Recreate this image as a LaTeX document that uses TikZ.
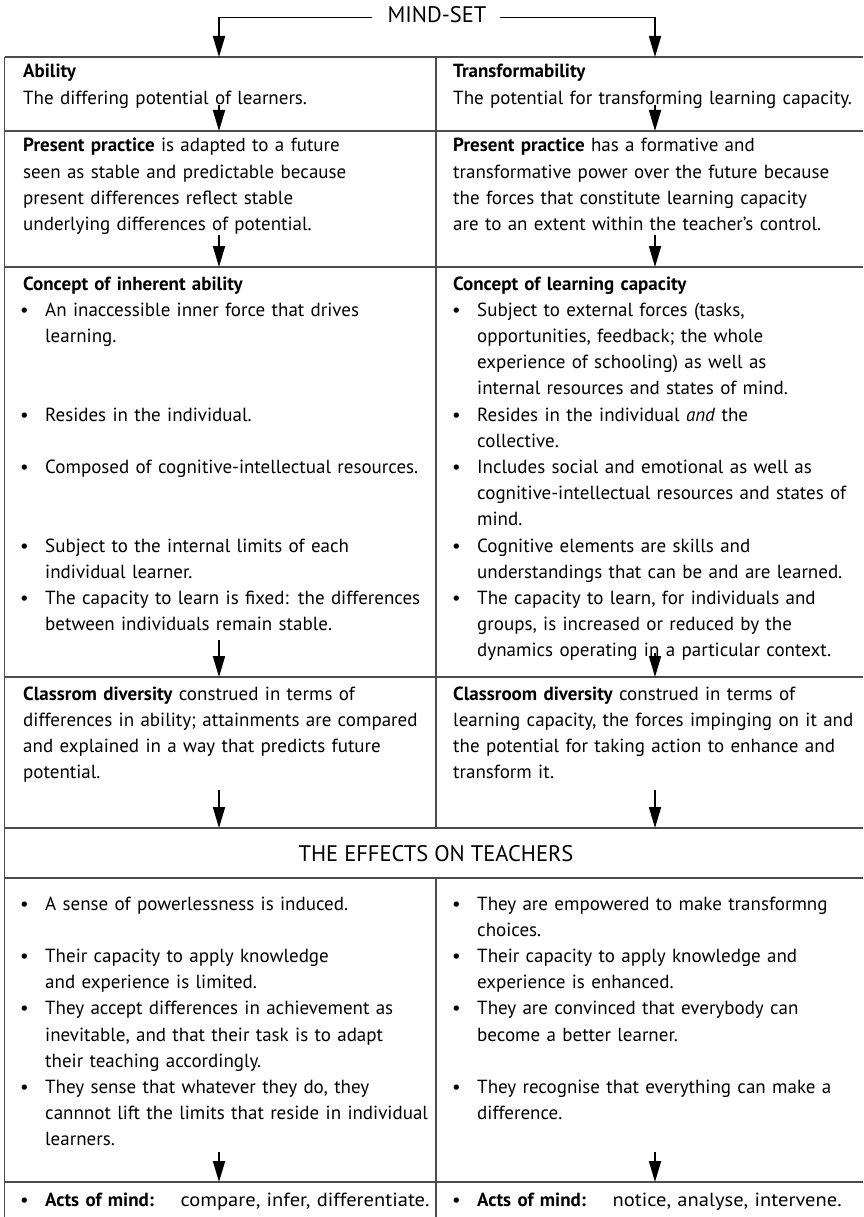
\documentclass[tikz,border=0pt]{standalone}
\usepackage{fontspec}
\setmainfont{PT Sans}
\usetikzlibrary{arrows.meta}
\newcommand\bodyfont{\fontsize{19}{26.2}\selectfont}
\newcommand\headfont{\fontsize{22.5}{26}\selectfont}
\newcommand\wideact{\addfontfeature{FakeStretch=1.08}}
\begin{document}
\begin{tikzpicture}[x=1pt,y=-1pt,
  txt/.style={anchor=base west, inner sep=0pt, text width=410pt, align=left, font=\bodyfont},
  bul/.style={anchor=base west, inner sep=0pt, font=\bodyfont},
  head/.style={anchor=base, inner sep=0pt, font=\headfont},
  rule/.style={draw=black!70, line width=1.5pt},
  arr/.style={draw=black, line width=1.8pt, -{Triangle[length=21pt,width=12pt]}}]
\useasboundingbox (0,0) rectangle (863,1217);

% ---------- table rules ----------
\draw[rule] (4.5,57) -- (4.5,1217);
\draw[rule] (436,57) -- (436,828);
\draw[rule] (436,878) -- (436,1217);
\foreach \y in {57,131,267,677,828,878,1182}
  \draw[rule] (4.5,\y) -- (863,\y);

% ---------- header ----------
\node[head] (ms) at (437,22.5) {MIND-SET};
\coordinate (msl) at (372,17.5);
\coordinate (msr) at (500,17.5);
\coordinate (t1) at (219,57);
\coordinate (t2) at (655,57);
\draw[arr] (msl) -| (t1);
\draw[arr] (msr) -| (t2);

% ---------- row 1 ----------
\node[txt] (abil) at (23,78) {\textbf{Ability}\\The differing potential of learners.};
\node[txt] (trans) at (453,78) {\textbf{Transformability}\\The potential for transforming learning capacity.};
\coordinate (a1s) at (219,105); \coordinate (a1e) at (219,131);
\coordinate (b1s) at (655,105); \coordinate (b1e) at (655,131);
\draw[arr] (a1s) -- (a1e);
\draw[arr] (b1s) -- (b1e);

% ---------- row 2 ----------
\node[txt] (presL) at (23,152) {\textbf{Present practice} is adapted to a future\\seen as stable and predictable because\\present differences reflect stable\\underlying differences of potential.};
\node[txt] (presR) at (453,152) {\textbf{Present practice} has a formative and\\transformative power over the future because\\the forces that constitute learning capacity\\are to an extent within the teacher’s control.};
\coordinate (a2s) at (219,235); \coordinate (a2e) at (219,267);
\coordinate (b2s) at (655,235); \coordinate (b2e) at (655,267);
\draw[arr] (a2s) -- (a2e);
\draw[arr] (b2s) -- (b2e);

% ---------- row 3 left ----------
\node[txt] (conL) at (23,290) {\textbf{Concept of inherent ability}};
\node[bul] (lb1) at (20,316.2) {•};
\node[txt] (lt1) at (45,316.2) {An inaccessible inner force that drives\\learning.};
\node[bul] (lb2) at (20,421) {•};
\node[txt] (lt2) at (45,421) {Resides in the individual.};
\node[bul] (lb3) at (20,473.4) {•};
\node[txt] (lt3) at (45,473.4) {Composed of cognitive-intellectual resources.};
\node[bul] (lb4) at (20,552) {•};
\node[txt] (lt4) at (45,552) {Subject to the internal limits of each\\individual learner.};
\node[bul] (lb5) at (20,604.4) {•};
\node[txt] (lt5) at (45,604.4) {The capacity to learn is fixed: the differences\\between individuals remain stable.};

% ---------- row 3 right ----------
\node[txt] (conR) at (453,290) {\textbf{Concept of learning capacity}};
\node[bul] (rb1) at (452,316.2) {•};
\node[txt] (rt1) at (477,316.2) {Subject to external forces (tasks,\\opportunities, feedback; the whole\\experience of schooling) as well as\\internal resources and states of mind.};
\node[bul] (rb2) at (452,421) {•};
\node[txt] (rt2) at (477,421) {Resides in the individual \textit{and} the\\collective.};
\node[bul] (rb3) at (452,473.4) {•};
\node[txt] (rt3) at (477,473.4) {Includes social and emotional as well as\\cognitive-intellectual resources and states of\\mind.};
\node[bul] (rb4) at (452,552) {•};
\node[txt] (rt4) at (477,552) {Cognitive elements are skills and\\understandings that can be and are learned.};
\node[bul] (rb5) at (452,604.4) {•};
\node[txt] (rt5) at (477,604.4) {The capacity to learn, for individuals and\\groups, is increased or reduced by the\\dynamics operating in a particular context.};
\coordinate (a3s) at (219,640); \coordinate (a3e) at (219,677);
\coordinate (b3s) at (655,653); \coordinate (b3e) at (655,677);
\draw[arr] (a3s) -- (a3e);
\draw[arr] (b3s) -- (b3e);

% ---------- row 4 ----------
\node[txt] (divL) at (23,700) {\textbf{Classrom diversity} construed in terms of\\differences in ability; attainments are compared\\and explained in a way that predicts future\\potential.};
\node[txt] (divR) at (453,700) {\textbf{Classroom diversity} construed in terms of\\learning capacity, the forces impinging on it and\\the potential for taking action to enhance and\\transform it.};
\coordinate (a4s) at (219,790); \coordinate (a4e) at (219,828);
\coordinate (b4s) at (655,790); \coordinate (b4e) at (655,828);
\draw[arr] (a4s) -- (a4e);
\draw[arr] (b4s) -- (b4e);

% ---------- row 5 ----------
\node[head] (eff) at (436,861) {THE EFFECTS ON TEACHERS};

% ---------- row 6 left ----------
\node[bul] (eb1) at (20,910) {•};
\node[txt] (et1) at (45,910) {A sense of powerlessness is induced.};
\node[bul] (eb2) at (20,962.4) {•};
\node[txt] (et2) at (45,962.4) {Their capacity to apply knowledge\\and experience is limited.};
\node[bul] (eb3) at (20,1014.8) {•};
\node[txt] (et3) at (45,1014.8) {They accept differences in achievement as\\inevitable, and that their task is to adapt\\their teaching accordingly.};
\node[bul] (eb4) at (20,1093.4) {•};
\node[txt] (et4) at (45,1093.4) {They sense that whatever they do, they\\cannnot lift the limits that reside in individual\\learners.};

% ---------- row 6 right ----------
\node[bul] (fb1) at (452,910) {•};
\node[txt] (ft1) at (477,910) {They are empowered to make transformng\\choices.};
\node[bul] (fb2) at (452,962.4) {•};
\node[txt] (ft2) at (477,962.4) {Their capacity to apply knowledge and\\experience is enhanced.};
\node[bul] (fb3) at (452,1014.8) {•};
\node[txt] (ft3) at (477,1014.8) {They are convinced that everybody can\\become a better learner.};
\node[bul] (fb4) at (452,1093.4) {•};
\node[txt] (ft4) at (477,1093.4) {They recognise that everything can make a\\difference.};
\coordinate (a6s) at (219,1152); \coordinate (a6e) at (219,1182);
\coordinate (b6s) at (655,1152); \coordinate (b6e) at (655,1182);
\draw[arr] (a6s) -- (a6e);
\draw[arr] (b6s) -- (b6e);

% ---------- row 7 ----------
\node[bul] (gb1) at (20,1206) {•};
\node[txt] (gt1) at (45,1206) {\textbf{Acts of mind:}\hspace{1.4em}{\wideact compare, infer, differentiate.}};
\node[bul] (gb2) at (452,1206) {•};
\node[txt] (gt2) at (477,1206) {\textbf{Acts of mind:}\hspace{1.4em}{\wideact notice, analyse, intervene.}};
\end{tikzpicture}
\end{document}
